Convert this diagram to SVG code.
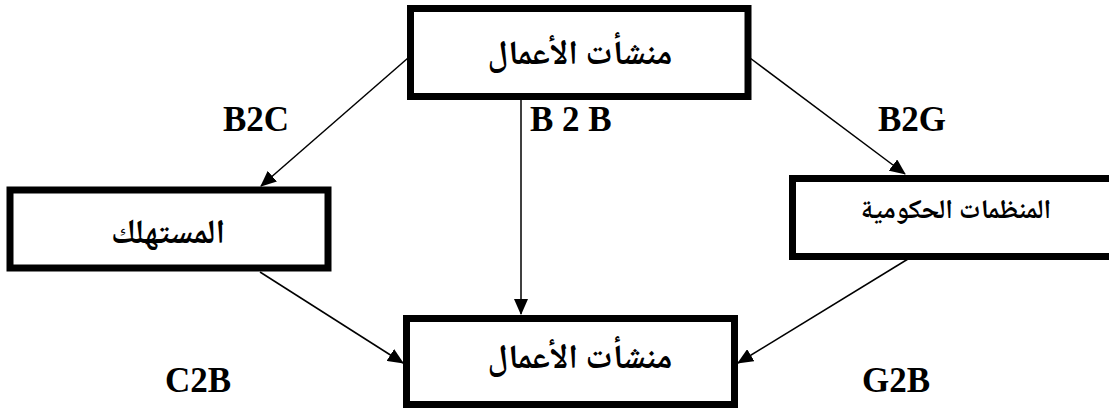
<svg xmlns="http://www.w3.org/2000/svg" width="1109" height="408" viewBox="0 0 1109 408">
<defs>
<style>
.box{fill:#fff;stroke:#000;stroke-width:7}
.conn{stroke:#000;stroke-width:1.5;fill:none;marker-end:url(#ah)}
.lbl{font-family:"Liberation Serif",serif;font-weight:bold;font-size:35px;fill:#000}
.ar{font-family:"Noto Naskh Arabic","DejaVu Sans",sans-serif;font-weight:bold;fill:#000;text-anchor:middle}
</style>
<marker id="ah" markerUnits="userSpaceOnUse" markerWidth="16" markerHeight="14" refX="15" refY="7" orient="auto">
<path d="M0,0 L16,7 L0,14 Z" fill="#000"/>
</marker>
</defs>
<rect width="1109" height="408" fill="#fff"/>
<g id="connectors">
<line class="conn" x1="408" y1="58" x2="261" y2="186"/>
<line class="conn" x1="521" y1="100" x2="521" y2="314"/>
<line class="conn" x1="750" y1="58" x2="905" y2="174"/>
<line class="conn" x1="260" y1="272" x2="403" y2="363"/>
<line class="conn" x1="908" y1="259" x2="738" y2="363"/>
</g>
<g id="node-top">
<rect class="box" x="410.5" y="8.5" width="337.5" height="88"/>
<text class="ar" x="580" y="64" font-size="34">منشأت الأعمال</text>
</g>
<g id="node-consumer">
<rect class="box" x="10" y="190" width="318" height="78"/>
<text class="ar" x="168" y="243" font-size="34">المستهلك</text>
</g>
<g id="node-gov">
<rect class="box" x="792.5" y="178.5" width="325" height="78"/>
<text class="ar" x="956" y="218" font-size="27">المنظمات الحكومية</text>
</g>
<g id="node-bottom">
<rect class="box" x="406.5" y="318.5" width="328" height="86"/>
<text class="ar" x="580" y="368" font-size="34">منشأت الأعمال</text>
</g>
<g id="labels">
<text class="lbl" x="223" y="131">B2C</text>
<text class="lbl" x="530" y="131">B 2 B</text>
<text class="lbl" x="878" y="131">B2G</text>
<text class="lbl" x="165" y="392">C2B</text>
<text class="lbl" x="862" y="392">G2B</text>
</g>
</svg>
